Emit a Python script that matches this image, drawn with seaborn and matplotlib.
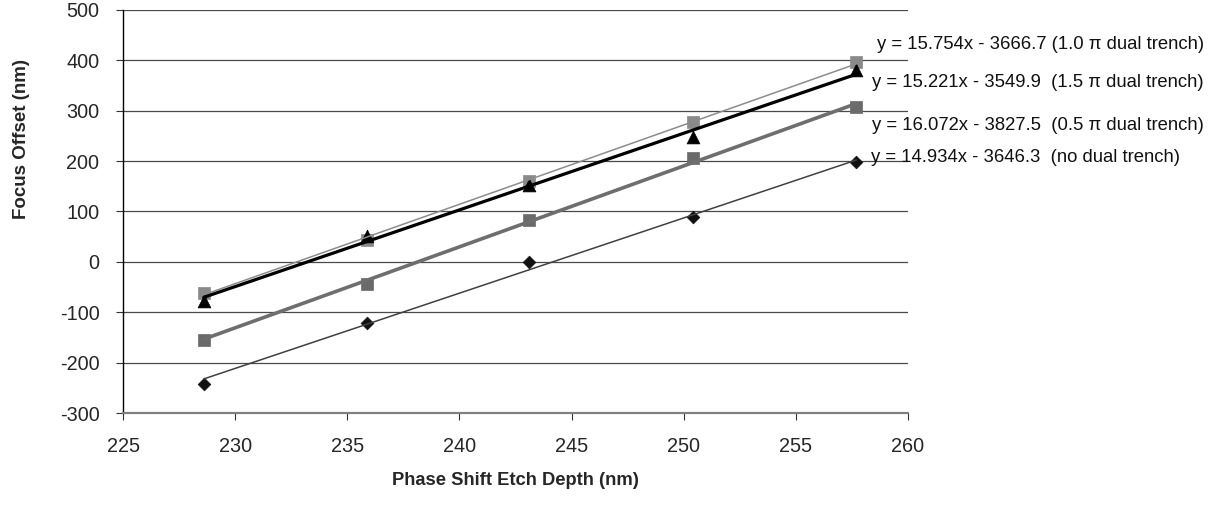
import numpy as np
import pandas as pd
import matplotlib
matplotlib.use("Agg")
import matplotlib.pyplot as plt
import seaborn as sns

# Measured focus offset versus phase-shift etch depth
etch_depth = [228.6, 235.9, 243.1, 250.4, 257.7]
focus_no_trench = [-242, -122, -1, 89, 198]
focus_05pi = [-155, -43, 84, 207, 307]
focus_10pi = [-61, 44, 161, 277, 397]
focus_15pi = [-78, 52, 153, 248, 380]

series_names = ["no dual trench", "0.5 \u03c0 dual trench", "1.0 \u03c0 dual trench", "1.5 \u03c0 dual trench"]
series_values = [focus_no_trench, focus_05pi, focus_10pi, focus_15pi]

# Linear trendline coefficients (slope, intercept)
fit_slopes = [14.934, 16.072, 15.754, 15.221]
fit_intercepts = [-3646.3, -3827.5, -3666.7, -3549.9]
equation_labels = [
    "y = 14.934x - 3646.3  (no dual trench)",
    "y = 16.072x - 3827.5  (0.5 \u03c0 dual trench)",
    "y = 15.754x - 3666.7 (1.0 \u03c0 dual trench)",
    "y = 15.221x - 3549.9  (1.5 \u03c0 dual trench)",
]

x_ticks = [225, 230, 235, 240, 245, 250, 255, 260]
y_ticks = [-300, -200, -100, 0, 100, 200, 300, 400, 500]

sns.set_style("white")
plt.rcParams["font.family"] = ["Liberation Sans", "DejaVu Sans"]
plt.rcParams["axes.unicode_minus"] = False

styles = {
    "no dual trench": dict(marker="D", s=42, mc="#111111", lc="#404040", lw=1.1),
    "0.5 \u03c0 dual trench": dict(marker="s", s=75, mc="#6a6a6a", lc="#6e6e6e", lw=2.6),
    "1.0 \u03c0 dual trench": dict(marker="s", s=75, mc="#8a8a8a", lc="#8c8c8c", lw=1.1),
    "1.5 \u03c0 dual trench": dict(marker="^", s=85, mc="#000000", lc="#000000", lw=2.3),
}
label_pos = {
    "no dual trench": (258.35, 208),
    "0.5 \u03c0 dual trench": (258.4, 271),
    "1.0 \u03c0 dual trench": (258.6, 432),
    "1.5 \u03c0 dual trench": (258.4, 357),
}

rows = []
for name, vals in zip(series_names, series_values):
    for x, y in zip(etch_depth, vals):
        rows.append({"depth": x, "focus": y, "series": name})
df = pd.DataFrame(rows)

fig = plt.figure(figsize=(12.24, 5.18), dpi=100)
ax = fig.add_axes([0.1005, 0.2027, 0.6413, 0.778])

ax.set_xlim(225, 260)
ax.set_ylim(-300, 500)
ax.set_yticks(y_ticks)
ax.set_xticks(x_ticks)
for yv in y_ticks[1:]:
    ax.axhline(yv, color="#4a4a4a", lw=0.9, zorder=0)

for name, slope, icpt, label in zip(series_names, fit_slopes, fit_intercepts, equation_labels):
    st = styles[name]
    sub = df[df["series"] == name]
    sns.scatterplot(data=sub, x="depth", y="focus", marker=st["marker"], s=st["s"],
                    color=st["mc"], edgecolor=st["mc"], linewidth=0.5, ax=ax,
                    zorder=3, legend=False)
    xs = np.array([etch_depth[0], etch_depth[-1]])
    line_df = pd.DataFrame({"depth": xs, "focus": slope * xs + icpt})
    sns.lineplot(data=line_df, x="depth", y="focus", color=st["lc"], lw=st["lw"],
                 ax=ax, zorder=4, legend=False)
    tx, ty = label_pos[name]
    ax.text(tx, ty, label, fontsize=13.3, ha="left", va="center", clip_on=False,
            zorder=5, color="#111111")

for side in ["top", "right"]:
    ax.spines[side].set_visible(False)
ax.spines["left"].set_color("black")
ax.spines["left"].set_linewidth(1.0)
ax.spines["bottom"].set_color("#808080")
ax.spines["bottom"].set_linewidth(1.6)

ax.tick_params(axis="y", direction="out", length=5, width=0.8, color="#333333",
               pad=12, labelsize=14.3, left=True)
ax.tick_params(axis="x", direction="out", length=5, width=0.8, color="#333333",
               pad=12, labelsize=14.3, bottom=True)

ax.set_xlabel("Phase Shift Etch Depth (nm)", fontsize=13.2, fontweight="bold", labelpad=12)
ax.set_ylabel("Focus Offset (nm)", fontsize=13.5, fontweight="bold")
ax.yaxis.set_label_coords(-0.118, 0.68)

fig.savefig("out.png", dpi=100)
